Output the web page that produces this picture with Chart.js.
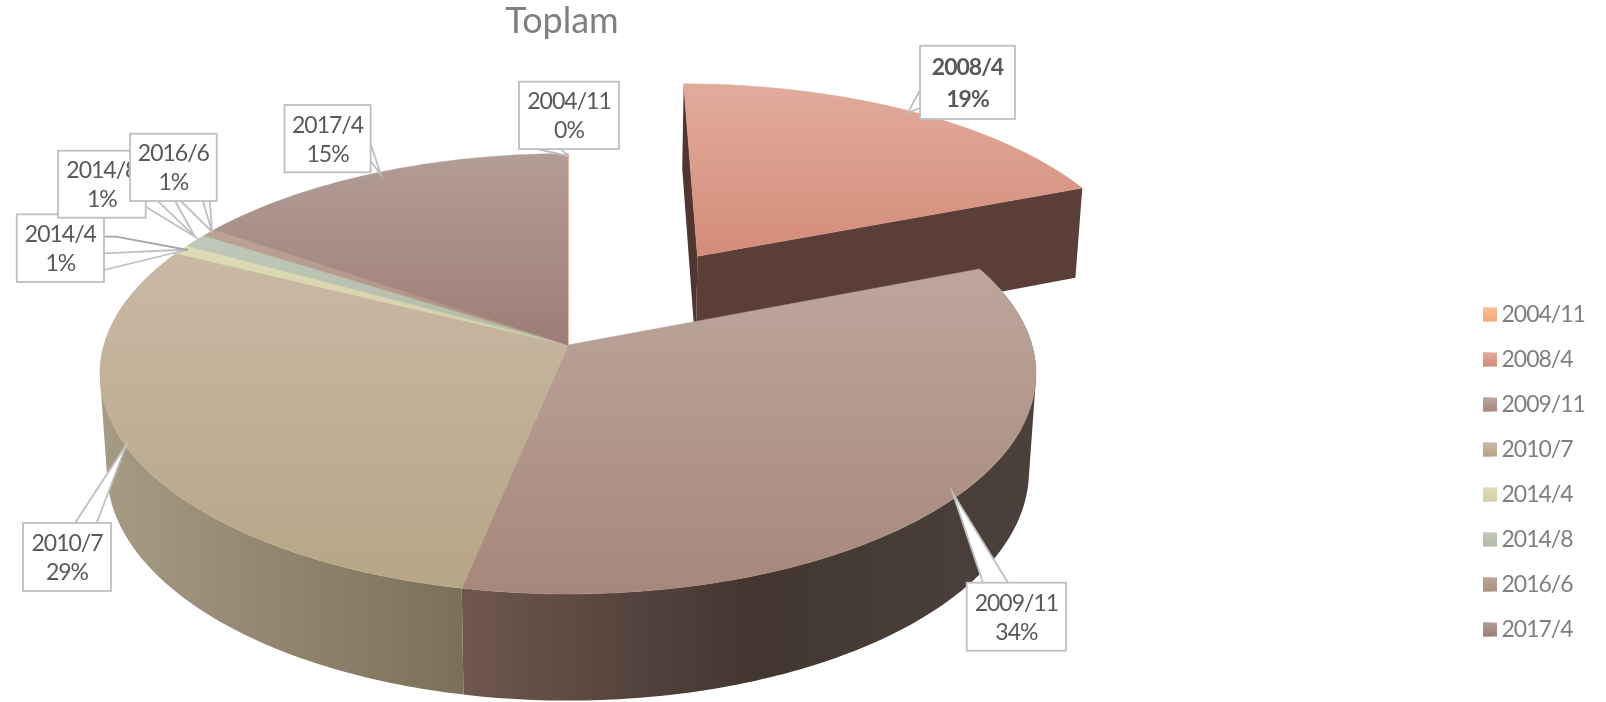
<!DOCTYPE html>
<html><head><meta charset="utf-8">
<style>html,body{margin:0;padding:0;background:#fff}canvas{display:block}</style>
<script src="https://cdn.jsdelivr.net/npm/chart.js@4"></script>
</head><body><canvas id="c" width="1606" height="702"></canvas>
<script>
const categories = ['2004/11','2008/4','2009/11','2010/7','2014/4','2014/8','2016/6','2017/4'];
const shares = [0.02,18.98,34.2,29.2,0.7,1,0.6,15.3];
const explode = [0,52.4,0,0,0,0,0,0];
const chartTitle = 'Toplam';

const topColors = ['#f8bd98','#e1ab9c','#bca69c','#c9b9a5','#dfdbb8','#c0c9ba','#bba396','#b39d97'];
const bottomColors = ['#f4a877','#d48c79','#a7877b','#b6a586','#d2cea4','#b2bba6','#ad8f7f','#9d7d76'];
const midColors = ['#f6b288','#db9c8a','#b2968b','#c0af96','#d8d4ae','#b9c2b0','#b4998a','#a88d86'];
const sideStops = [
  null,
  [[0,'#5a3e37'],[1,'#5a3e37']],
  [[0,'#6e574e'],[0.5,'#433630'],[1,'#4b413c']],
  [[0,'#a89b86'],[0.5,'#928570'],[1,'#7a705a']],
  null,null,null,null
];
const sideRange = [null,null,[463,1036],[100,465],null,null,null,null];

// callout layout: box [left, top, right, bottom] and leader outlines
const callouts = [
 {i:4,box:[16.7,214.3,104,282],lines:[[[104,270],[188,249.5],[104,253.3]]],dark:[[[104,236.7],[116,236.7],[188,250]]],poly:[[104,270],[188,249.5],[104,253.3]]},
 {i:5,box:[58,150.7,145.7,217.7],lines:[[[145.7,206.7],[195,236.7],[158.4,201.7]],[[175.5,201.7],[194,235]]],poly:[[145.7,206.7],[195,236.7],[145.7,190]]},
 {i:6,box:[130,133.7,216.7,201],lines:[[[180.8,201],[212,231.7],[209.8,201]],[[202.9,201],[212,231.7]]],poly:[[180.8,201],[212,231.7],[209.8,201]]},
 {i:7,box:[284.5,105,370.6,172.3],lines:[[[370.6,144],[381,175],[370.6,161]]],poly:[[370.6,144],[381,175],[370.6,161]]},
 {i:0,box:[519,81.7,619,149],lines:[[[537,149],[568,156],[561,149]]],poly:[[537,149],[568,156],[561,149]]},
 {i:1,box:[920,45.7,1015,119],lines:[[[920,90],[908,112.7],[920,108]]],poly:[[920,90],[908,112.7],[920,108]],bold:true},
 {i:2,box:[966.7,582.7,1066,650.7],lines:[[[983,582.7],[952.7,493],[1008,582.7]]],poly:[[983,582.7],[952.7,493],[1008,582.7]]},
 {i:3,box:[23,523,111,591],lines:[[[75,523],[126.7,444],[96.7,523]]],poly:[[75,523],[126.7,444],[96.7,523]]}
];

const CX=568, CY=345, B=464, A=216.4, K=0.1308, M=0.015, DEPTH=98;
function P(u,v,z){const w=1-K*v+M*z;return [CX+B*u/w,CY+(A*v+DEPTH*z)/w];}
function rim(arc,ang,z,r){
  const a=ang+Math.PI/2, d=arc.options.offset/100, mid=(arc.startAngle+arc.endAngle)/2+Math.PI/2;
  const ox=Math.sin(mid)*d, oy=-Math.cos(mid)*d;
  return P(ox+Math.sin(a)*r,oy-Math.cos(a)*r,z);
}
function addPoly(ctx,pts){pts.forEach((p,i)=>i?ctx.lineTo(p[0],p[1]):ctx.moveTo(p[0],p[1]));ctx.closePath();}
function path(ctx,pts){ctx.beginPath();addPoly(ctx,pts);}
function rimPts(arc,z){
  const n=Math.max(2,Math.ceil((arc.endAngle-arc.startAngle)*60)),pts=[];
  for(let j=0;j<=n;j++){const t=arc.startAngle+(arc.endAngle-arc.startAngle)*j/n;pts.push(rim(arc,t,z,1));}
  return pts;
}
function drawTop(ctx,arc,i){
  const pts=[rim(arc,arc.startAngle,0,0),...rimPts(arc,0)];
  const ys=pts.map(p=>p[1]);
  const g=ctx.createLinearGradient(0,Math.min(...ys),0,Math.max(...ys));
  g.addColorStop(0,topColors[i]);g.addColorStop(1,bottomColors[i]);
  path(ctx,pts);ctx.fillStyle=g;ctx.fill();
  ctx.strokeStyle=g;ctx.lineWidth=0.5;ctx.stroke();
}
function area(q){let s=0;q.forEach((p,i)=>{const n=q[(i+1)%q.length];s+=p[0]*n[1]-n[0]*p[1];});return s;}
function drawSide(ctx,arc,i){
  if(!sideStops[i])return;
  const up=rimPts(arc,0),lo=rimPts(arc,1);
  let fill;
  const r=sideRange[i];
  if(r){fill=ctx.createLinearGradient(r[0],0,r[1],0);sideStops[i].forEach(s=>fill.addColorStop(s[0],s[1]));}
  else fill=sideStops[i][0][1];
  ctx.fillStyle=fill;
  ctx.beginPath();
  for(let j=0;j<up.length-1;j++){
    const q=[up[j],up[j+1],lo[j+1],lo[j]];
    if(area(q)<0)q.reverse();
    addPoly(ctx,q);
  }
  ctx.fill('nonzero');
}
function drawWalls(ctx,arc){
  const c0=rim(arc,arc.startAngle,0,0),c1=rim(arc,arc.startAngle,1,0);
  path(ctx,[c0,rim(arc,arc.startAngle,0,1),rim(arc,arc.startAngle,1,1),c1]);ctx.fillStyle='#4f3630';ctx.fill();
  path(ctx,[c0,rim(arc,arc.endAngle,0,1),rim(arc,arc.endAngle,1,1),c1]);ctx.fillStyle='#5a3e37';ctx.fill();
}
function drawCallouts(ctx){
  const total=shares.reduce((a,b)=>a+b,0);
  const polyline=seg=>{ctx.beginPath();seg.forEach((p,j)=>j?ctx.lineTo(p[0],p[1]):ctx.moveTo(p[0],p[1]));ctx.stroke();};
  callouts.forEach(c=>{
    const [l,t,r,b]=c.box;
    ctx.lineWidth=1.8;ctx.fillStyle='#fff';
    path(ctx,c.poly);ctx.fill();
    ctx.strokeStyle='#bfbfbf';
    c.lines.forEach(polyline);
    ctx.strokeStyle='#a6a6a6';
    (c.dark||[]).forEach(polyline);
    ctx.strokeStyle='#bfbfbf';
    ctx.fillRect(l,t,r-l,b-t);ctx.strokeRect(l,t,r-l,b-t);
    ctx.fillStyle='#595959';
    ctx.letterSpacing='-1px';
    ctx.font=(c.bold?'bold ':'')+'23px Lato';ctx.textAlign='center';ctx.textBaseline='middle';
    const mx=(l+r)/2,my=(t+b)/2+1,gap=(b-t)*0.215;
    ctx.fillText(categories[c.i],mx,my-gap);
    ctx.fillText(Math.round(shares[c.i]/total*100)+'%',mx,my+gap);
    ctx.letterSpacing='0px';
  });
}
const pie3d={
  id:'pie3d',
  afterLayout(chart){
    const tb=chart.titleBlock;tb.left=0;tb.right=1124;
    const lg=chart.legend,p=lg.options.labels.padding;
    lg.left=1483-p;lg.right=1606;lg.top=303-p;lg.bottom=702;
    if(!lg._spaced){
      lg._spaced=true;
      const orig=lg.draw;
      lg.draw=function(){const c=this.ctx;c.save();c.letterSpacing='-1px';orig.apply(this,arguments);c.restore();};
    }
  },
  beforeDatasetsDraw(chart){
    const ctx=chart.ctx,arcs=chart.getDatasetMeta(0).data;
    ctx.save();
    arcs.forEach((a,i)=>{if(a.options.offset>0){drawWalls(ctx,a);drawTop(ctx,a,i);}});
    arcs.forEach((a,i)=>{if(a.options.offset===0)drawSide(ctx,a,i);});
    arcs.forEach((a,i)=>{if(a.options.offset===0)drawTop(ctx,a,i);});
    drawCallouts(ctx);
    ctx.restore();
    return false;
  },
  afterDraw(chart){
    const ctx=chart.ctx;ctx.save();
    chart.legend.legendHitBoxes.forEach((h,i)=>{
      const y=h.top+h.height/2-7;
      const g=ctx.createLinearGradient(0,y,0,y+14);
      g.addColorStop(0,topColors[i]);g.addColorStop(1,bottomColors[i]);
      ctx.fillStyle=g;ctx.fillRect(h.left,y,14,14);
    });
    ctx.restore();
  }
};
new Chart(document.getElementById('c'),{
  type:'pie',
  data:{labels:categories,datasets:[{data:shares,backgroundColor:midColors,offset:explode,borderWidth:0}]},
  plugins:[pie3d],
  options:{
    responsive:false,animation:false,
    layout:{padding:0},
    plugins:{
      tooltip:{enabled:false},
      title:{display:true,text:chartTitle,color:'#7f7f7f',font:{family:'Lato',size:36,weight:'normal',lineHeight:1.2},padding:{top:0,bottom:0}},
      legend:{position:'right',align:'start',onClick:null,
        labels:{boxWidth:7,boxHeight:14,padding:22,color:'#7f7f7f',font:{family:'Lato',size:23}}}
    }
  }
});
</script></body></html>
